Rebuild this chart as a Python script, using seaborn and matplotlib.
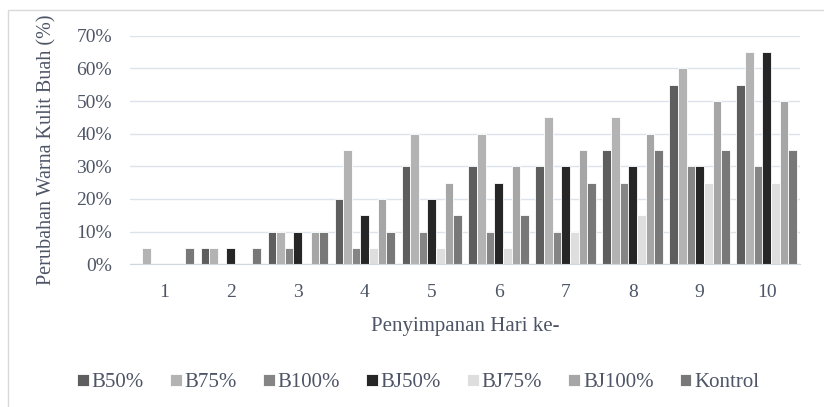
import numpy as np
import pandas as pd
import seaborn as sns
import matplotlib.pyplot as plt
from matplotlib.ticker import FuncFormatter
from matplotlib.patches import Rectangle

# Data (percent of fruit skin colour change)
hari = [1, 2, 3, 4, 5, 6, 7, 8, 9, 10]
perlakuan = ['B50%', 'B75%', 'B100%', 'BJ50%', 'BJ75%', 'BJ100%', 'Kontrol']

b50 = [0, 5, 10, 20, 30, 30, 30, 35, 55, 55]
b75 = [5, 5, 10, 35, 40, 40, 45, 45, 60, 65]
b100 = [0, 0, 5, 5, 10, 10, 10, 25, 30, 30]
bj50 = [0, 5, 10, 15, 20, 25, 30, 30, 30, 65]
bj75 = [0, 0, 0, 5, 5, 5, 10, 15, 25, 25]
bj100 = [0, 0, 10, 20, 25, 30, 35, 40, 50, 50]
kontrol = [5, 5, 10, 10, 15, 15, 25, 35, 35, 35]

warna = ['#5e5e5e', '#b3b3b3', '#858585', '#262626', '#dedede', '#a6a6a6', '#787878']

series = [b50, b75, b100, bj50, bj75, bj100, kontrol]
rows = []
for name, vals in zip(perlakuan, series):
    for h, v in zip(hari, vals):
        rows.append({'Hari': str(h), 'Perlakuan': name, 'Nilai': v / 100})
df = pd.DataFrame(rows)

sns.set_style('white')
plt.rcParams['font.family'] = ['Liberation Serif', 'DejaVu Serif']
txt = '#4d5566'

fig = plt.figure(figsize=(8.24, 4.07), dpi=100)
ax = fig.add_axes([0.158, 0.351, 0.813, 0.561])

sns.barplot(data=df, x='Hari', y='Nilai', hue='Perlakuan', hue_order=perlakuan,
            palette=warna, width=0.9, edgecolor='white', linewidth=0.6,
            saturation=1, ax=ax, legend=True)

ax.set_ylim(0, 0.7)
ax.set_yticks(np.arange(0, 0.71, 0.1))
ax.yaxis.set_major_formatter(FuncFormatter(lambda v, p: f'{v * 100:.0f}%'))
ax.grid(axis='y', color='#dde3ea', linewidth=1)
ax.set_axisbelow(True)
for s in ['top', 'right', 'left']:
    ax.spines[s].set_visible(False)
ax.spines['bottom'].set_color('#d0d6de')
ax.tick_params(axis='both', length=0, labelsize=14, colors=txt)
ax.tick_params(axis='y', pad=13)
ax.tick_params(axis='x', pad=14)

ax.set_xlabel('Penyimpanan Hari ke-', fontsize=15, color=txt, labelpad=12)
ax.set_ylabel('Perubahan Warna Kulit Buah (%)', fontsize=14.5, color=txt, labelpad=14)

ax.legend(loc='center', bbox_to_anchor=(0.43, -0.52), ncol=7, frameon=False,
          fontsize=15, labelcolor=txt, handlelength=0.55, handleheight=0.55,
          handletextpad=0.15, columnspacing=1.25)

fig.patches.append(Rectangle((0.01, -0.05), 1.2, 1.025, transform=fig.transFigure,
                             fill=False, edgecolor='#d9d9d9', linewidth=1))

fig.savefig('out.png', dpi=100)
